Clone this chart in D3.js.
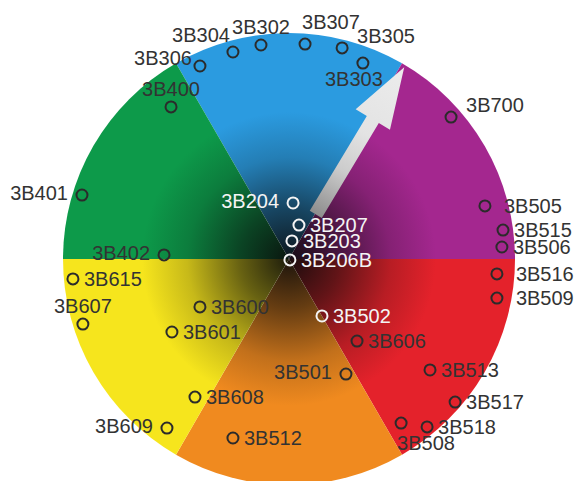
<!DOCTYPE html>
<html>
<head>
<meta charset="utf-8">
<script src="https://cdn.jsdelivr.net/npm/d3@7"></script>
<style>
  body { margin: 0; background: #fff; }
  svg { display: block; }
</style>
</head>
<body>
<div id="chart"></div>
<script>
// wheel sectors, clockwise from the top
const sectorNames = ['blue', 'purple', 'red', 'orange', 'yellow', 'green'];
const sectorColors = ['#2b9be0', '#a4278f', '#e4222b', '#f08a1f', '#f6e51d', '#0d9a4a'];

// samples, x/y in wheel units (-100..100)
const sampleIds = ['3B304', '3B306', '3B302', '3B307', '3B305', '3B303', '3B400', '3B700',
  '3B401', '3B204', '3B207', '3B203', '3B206B', '3B402', '3B505', '3B515', '3B506',
  '3B516', '3B509', '3B615', '3B607', '3B600', '3B601', '3B502', '3B606', '3B501',
  '3B513', '3B608', '3B517', '3B609', '3B512', '3B518', '3B508'];
const sampleX = [-24.8, -39.4, -12.4, 7.1, 23.5, 32.7, -52.2, 71.7,
  -91.6, 1.8, 4.4, 1.3, 0.4, -55.3, 86.7, 94.7, 94.2,
  92.0, 92.0, -95.6, -91.2, -39.4, -51.8, 14.6, 30.1, 25.2,
  62.4, -41.6, 73.5, -54.0, -24.8, 61.1, 49.6];
const sampleY = [91.6, 85.4, 94.7, 95.1, 93.4, 86.7, 67.3, 62.8,
  28.3, 24.8, 15.0, 8.0, -0.4, 1.8, 23.5, 12.8, 5.3,
  -6.6, -17.3, -8.8, -28.8, -21.2, -32.3, -25.2, -36.3, -50.9,
  -49.1, -61.1, -63.3, -74.8, -79.2, -74.3, -72.6];
const labelSide = ['nw', 'wnw', 'n', 'nne', 'ne', 's', 'n', 'ne',
  'w', 'w', 'e', 'e', 'e', 'w', 'ee', 'e', 'e',
  'ee', 'ee', 'e', 'n', 'e', 'e', 'e', 'e', 'w',
  'e', 'e', 'e', 'w', 'e', 'e', 'sse'];

// arrow: direction in degrees clockwise from 12 o'clock, span in radius units
const arrowDirection = 31;
const arrowSpan = [23, 99];

class ColorWheel {

  constructor(_config, _data) {
    this.config = {
      parentElement: _config.parentElement,
      containerWidth: _config.containerWidth || 579,
      containerHeight: _config.containerHeight || 481,
      centerX: 289,
      centerY: 259,
      radius: 226,
      fontSize: 20,
      darkLimit: 35
    }
    this.data = _data;
    this.initVis();
  }

  initVis() {
    let vis = this;
    const c = vis.config;

    vis.svg = d3.select(c.parentElement).append('svg')
      .attr('width', c.containerWidth)
      .attr('height', c.containerHeight);

    vis.x = d3.scaleLinear().domain([-100, 100]).range([c.centerX - c.radius, c.centerX + c.radius]);
    vis.y = d3.scaleLinear().domain([-100, 100]).range([c.centerY + c.radius, c.centerY - c.radius]);
    vis.r = d3.scaleLinear().domain([0, 100]).range([0, c.radius]);

    vis.defs = vis.svg.append('defs');
    vis.wheel = vis.svg.append('g')
      .attr('transform', `translate(${c.centerX}, ${c.centerY})`);

    vis.updateVis();
  }

  updateVis() {
    let vis = this;
    const c = vis.config;

    // radial gradient per sector: dark centre to full colour at the rim
    const stops = [[0, 0.08], [0.22, 0.4], [0.45, 0.8], [0.65, 1]];
    sectorNames.forEach((name, i) => {
      const g = vis.defs.append('radialGradient')
        .attr('id', 'grad-' + name)
        .attr('gradientUnits', 'userSpaceOnUse')
        .attr('cx', 0).attr('cy', 0).attr('r', vis.r(100));
      stops.forEach(s => {
        g.append('stop')
          .attr('offset', s[0])
          .attr('stop-color', d3.interpolateRgb('#0a0a0a', sectorColors[i])(s[1]));
      });
    });

    const pie = d3.pie().value(1).sort(null)
      .startAngle(-Math.PI / 6).endAngle(2 * Math.PI - Math.PI / 6);
    const arc = d3.arc().innerRadius(0).outerRadius(vis.r(100));

    vis.wheel.selectAll('path.sector')
      .data(pie(sectorNames))
      .enter().append('path')
      .attr('class', 'sector')
      .attr('d', arc)
      .attr('fill', d => `url(#grad-${d.data})`);

    // arrow
    const a0 = vis.r(arrowSpan[0]);
    const a1 = vis.r(arrowSpan[1]);
    const headBase = a1 - 61;
    const arrowGrad = vis.defs.append('linearGradient')
      .attr('id', 'arrow-grad')
      .attr('gradientUnits', 'userSpaceOnUse')
      .attr('x1', a0).attr('y1', 0).attr('x2', a1).attr('y2', 0);
    [[0, '#8d8d8d'], [0.3, '#cccccc'], [0.55, '#e3e3e3'], [1, '#ececec']].forEach(s => {
      arrowGrad.append('stop').attr('offset', s[0]).attr('stop-color', s[1]);
    });

    const arrowPts = [[a0, -7], [headBase, -7], [headBase, -20], [a1, 0],
      [headBase, 20], [headBase, 7], [a0, 7]];
    vis.wheel.append('path')
      .attr('transform', `rotate(${arrowDirection - 90})`)
      .attr('d', d3.line()(arrowPts) + 'Z')
      .attr('fill', 'url(#arrow-grad)');

    // samples
    const side = {
      e: {a: 'start', dx: 11, dy: 0},
      ee: {a: 'start', dx: 19, dy: 0},
      w: {a: 'end', dx: -14, dy: -2},
      n: {a: 'middle', dx: 0, dy: -18},
      nne: {a: 'start', dx: -3, dy: -22},
      ne: {a: 'start', dx: 15, dy: -12},
      nw: {a: 'end', dx: -3, dy: -17},
      wnw: {a: 'end', dx: -8, dy: -8},
      s: {a: 'middle', dx: -9, dy: 16},
      sse: {a: 'start', dx: -4, dy: 20}
    };
    const capHalf = c.fontSize * 0.716 / 2;
    const isLight = d => Math.hypot(d.x, d.y) < c.darkLimit;

    const pts = vis.svg.append('g');
    pts.selectAll('circle')
      .data(vis.data)
      .enter().append('circle')
      .attr('cx', d => vis.x(d.x))
      .attr('cy', d => vis.y(d.y))
      .attr('r', 5.5)
      .attr('fill', 'none')
      .attr('stroke', d => isLight(d) ? '#f4f4f4' : '#2b2b2b')
      .attr('stroke-width', 2);

    pts.selectAll('text')
      .data(vis.data)
      .enter().append('text')
      .attr('x', d => vis.x(d.x) + side[d.side].dx)
      .attr('y', d => vis.y(d.y) + side[d.side].dy + capHalf)
      .attr('text-anchor', d => side[d.side].a)
      .attr('font-family', '"Liberation Sans", Arial, sans-serif')
      .attr('font-size', c.fontSize)
      .attr('fill', d => isLight(d) ? '#f4f4f4' : '#333')
      .text(d => d.id);
  }
}

const samples = sampleIds.map((id, i) => ({id: id, x: sampleX[i], y: sampleY[i], side: labelSide[i]}));
new ColorWheel({parentElement: '#chart'}, samples);
</script>
</body>
</html>
